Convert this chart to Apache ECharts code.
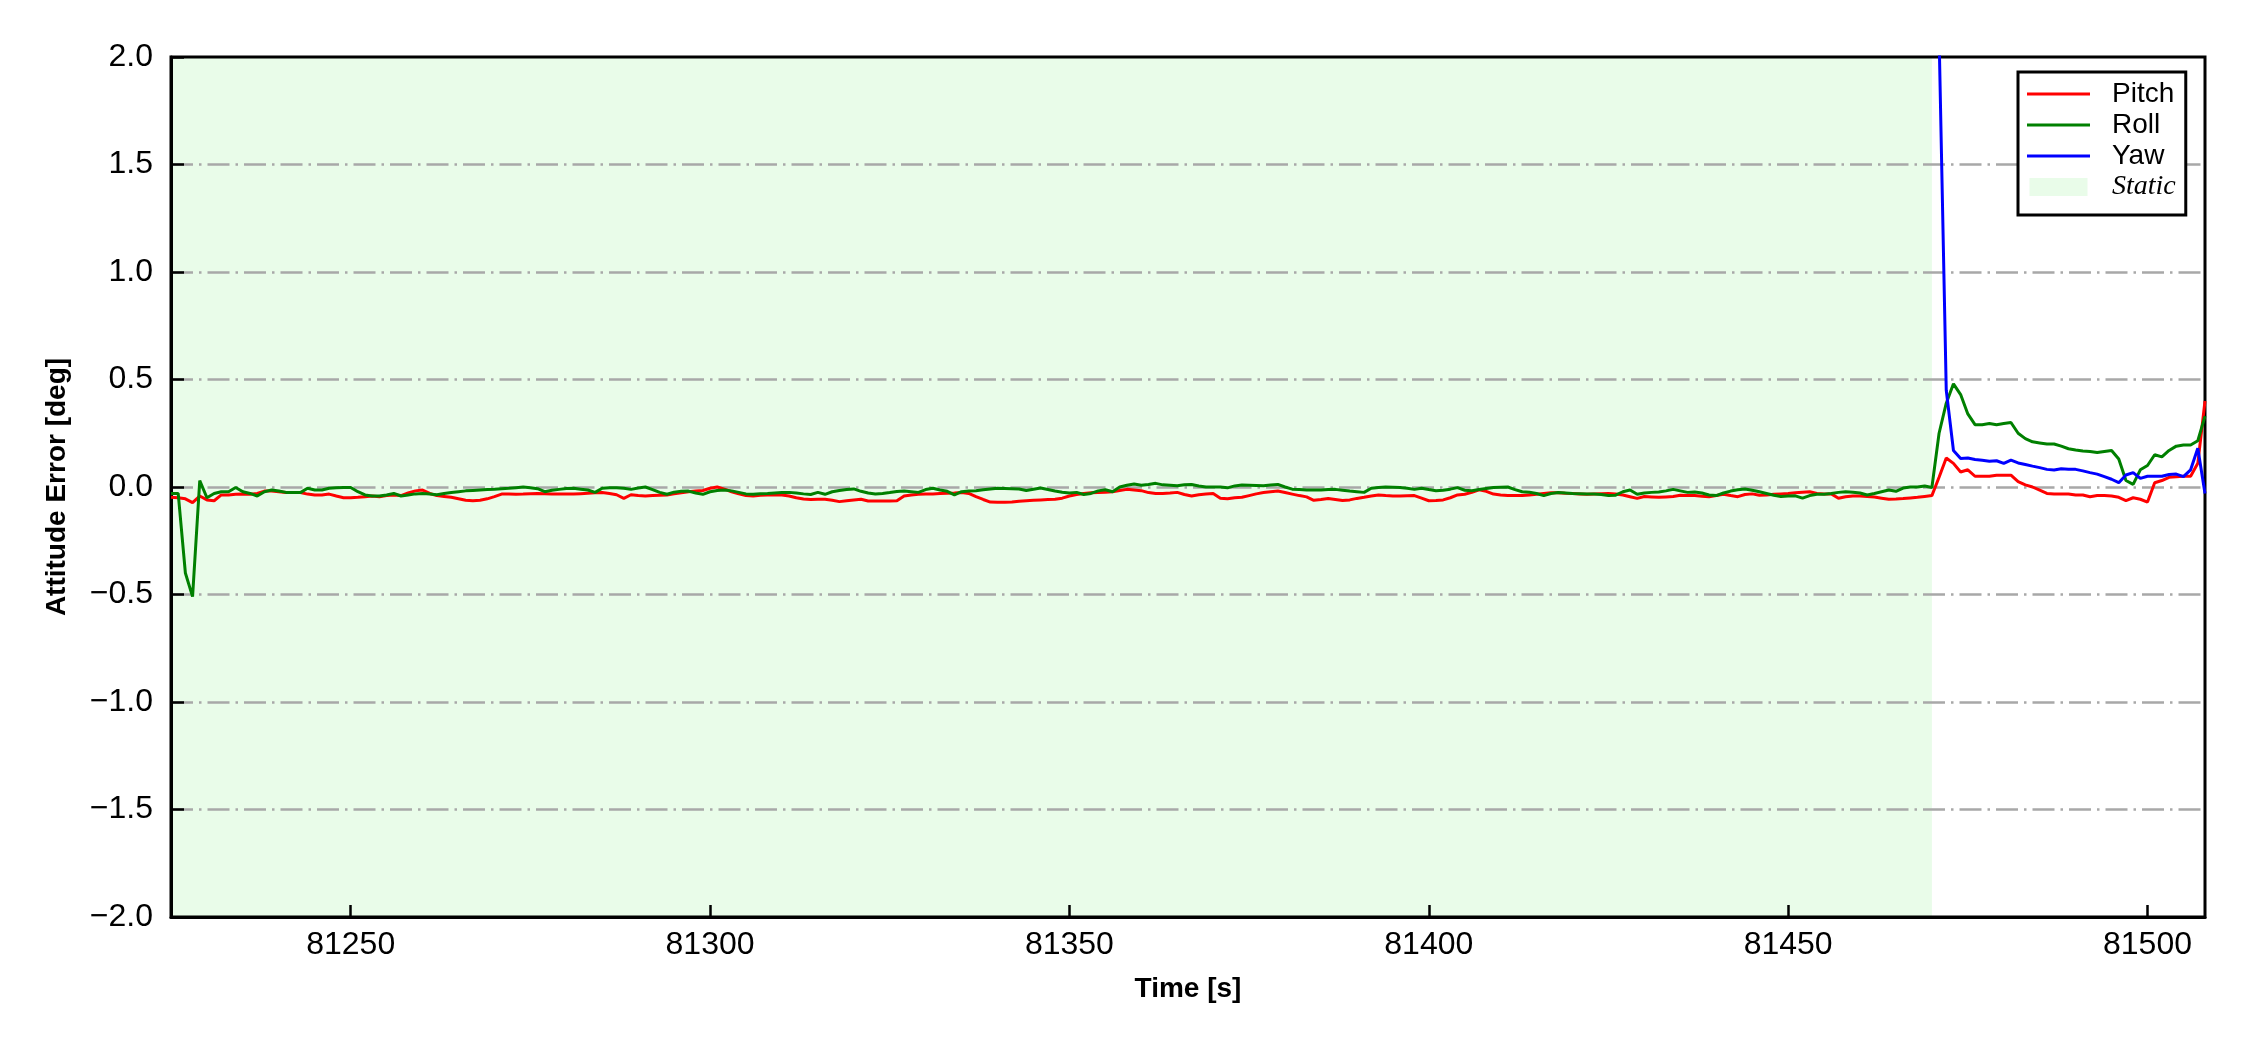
<!DOCTYPE html>
<html>
<head>
<meta charset="utf-8">
<script src="https://cdn.jsdelivr.net/npm/echarts@6/dist/echarts.min.js"></script>
<style>
html,body{margin:0;padding:0;background:#fff;}
#chart{width:2250px;height:1050px;}
</style>
</head>
<body>
<div id="chart"></div>
<script>
// ---- data ----
const timeStart = 81225;          // first sample time [s], 1 s sampling
const yawStart = 81470;           // first yaw sample time [s]
const staticStart = 81225;
const staticEnd = 81470;
const xTicks = [81250, 81300, 81350, 81400, 81450, 81500];
const yTicks = [-2.0, -1.5, -1.0, -0.5, 0.0, 0.5, 1.0, 1.5, 2.0];

const pitch = [
 -0.048,-0.05,-0.055,-0.073,-0.042,-0.06,-0.064,-0.037,-0.037,-0.034,
 -0.033,-0.034,-0.03,-0.019,-0.019,-0.022,-0.026,-0.026,-0.026,-0.033,
 -0.037,-0.037,-0.033,-0.042,-0.05,-0.05,-0.048,-0.045,-0.042,-0.045,
 -0.04,-0.037,-0.04,-0.028,-0.018,-0.014,-0.030,-0.040,-0.044,-0.048,
 -0.055,-0.062,-0.064,-0.062,-0.055,-0.045,-0.033,-0.033,-0.034,-0.033,
 -0.031,-0.030,-0.031,-0.033,-0.033,-0.033,-0.033,-0.031,-0.029,-0.027,
 -0.026,-0.030,-0.036,-0.053,-0.036,-0.040,-0.042,-0.040,-0.038,-0.037,
 -0.032,-0.027,-0.022,-0.019,-0.016,-0.006,0.0,-0.010,-0.022,-0.032,
 -0.040,-0.042,-0.038,-0.037,-0.037,-0.037,-0.042,-0.050,-0.056,-0.058,
 -0.057,-0.057,-0.062,-0.068,-0.064,-0.060,-0.057,-0.065,-0.065,-0.065,
 -0.065,-0.064,-0.042,-0.037,-0.034,-0.033,-0.032,-0.030,-0.029,-0.028,
 -0.026,-0.030,-0.045,-0.058,-0.070,-0.071,-0.071,-0.070,-0.066,-0.064,
 -0.062,-0.060,-0.058,-0.057,-0.052,-0.042,-0.035,-0.030,-0.027,-0.026,
 -0.025,-0.022,-0.016,-0.011,-0.014,-0.017,-0.026,-0.030,-0.030,-0.028,
 -0.025,-0.035,-0.042,-0.036,-0.033,-0.030,-0.052,-0.055,-0.050,-0.048,
 -0.040,-0.032,-0.026,-0.022,-0.019,-0.026,-0.033,-0.040,-0.046,-0.062,
 -0.058,-0.053,-0.058,-0.063,-0.060,-0.053,-0.048,-0.042,-0.037,-0.040,
 -0.042,-0.042,-0.041,-0.040,-0.052,-0.064,-0.063,-0.060,-0.050,-0.037,
 -0.034,-0.025,-0.013,-0.020,-0.033,-0.037,-0.040,-0.040,-0.040,-0.037,
 -0.034,-0.030,-0.027,-0.027,-0.029,-0.030,-0.032,-0.034,-0.032,-0.031,
 -0.030,-0.033,-0.037,-0.045,-0.053,-0.044,-0.046,-0.048,-0.046,-0.044,
 -0.038,-0.039,-0.040,-0.043,-0.045,-0.040,-0.034,-0.040,-0.045,-0.035,
 -0.032,-0.038,-0.037,-0.034,-0.032,-0.030,-0.027,-0.024,-0.022,-0.030,
 -0.032,-0.032,-0.052,-0.045,-0.042,-0.042,-0.044,-0.047,-0.052,-0.057,
 -0.056,-0.054,-0.051,-0.048,-0.044,-0.040,0.045,0.135,0.11,0.07,
 0.08,0.05,0.05,0.05,0.055,0.055,0.055,0.025,0.01,0.00,
 -0.015,-0.03,-0.033,-0.033,-0.033,-0.037,-0.037,-0.045,-0.04,-0.04,
 -0.042,-0.048,-0.063,-0.05,-0.057,-0.07,0.02,0.03,0.045,0.048,
 0.05,0.05,0.11,0.40
];

const roll = [
 -0.03,-0.03,-0.40,-0.51,0.03,-0.05,-0.03,-0.022,-0.022,-0.002,
 -0.022,-0.03,-0.042,-0.022,-0.014,-0.019,-0.025,-0.025,-0.026,-0.006,
 -0.014,-0.014,-0.006,-0.003,-0.002,-0.002,-0.022,-0.037,-0.042,-0.042,
 -0.037,-0.03,-0.042,-0.037,-0.032,-0.03,-0.033,-0.036,-0.03,-0.026,
 -0.022,-0.018,-0.016,-0.014,-0.012,-0.011,-0.008,-0.006,-0.003,0.0,
 -0.003,-0.008,-0.022,-0.015,-0.011,-0.007,-0.006,-0.010,-0.014,-0.025,
 -0.006,-0.004,-0.003,-0.006,-0.011,-0.005,0.0,-0.012,-0.025,-0.034,
 -0.024,-0.020,-0.019,-0.028,-0.034,-0.022,-0.016,-0.014,-0.018,-0.025,
 -0.032,-0.034,-0.031,-0.030,-0.028,-0.026,-0.025,-0.028,-0.032,-0.035,
 -0.025,-0.034,-0.022,-0.016,-0.012,-0.009,-0.020,-0.028,-0.033,-0.030,
 -0.026,-0.021,-0.019,-0.022,-0.025,-0.012,-0.006,-0.014,-0.020,-0.037,
 -0.022,-0.019,-0.017,-0.013,-0.009,-0.006,-0.007,-0.008,-0.009,-0.016,
 -0.010,-0.005,-0.012,-0.019,-0.024,-0.028,-0.025,-0.035,-0.030,-0.018,
 -0.013,-0.022,0.0,0.008,0.014,0.008,0.012,0.017,0.010,0.008,
 0.006,0.010,0.012,0.005,0.0,0.0,0.0,-0.004,0.005,0.009,
 0.008,0.007,0.006,0.009,0.012,0.0,-0.010,-0.012,-0.014,-0.014,
 -0.014,-0.012,-0.011,-0.015,-0.019,-0.022,-0.025,-0.006,-0.002,0.0,
 -0.001,-0.002,-0.006,-0.011,-0.006,-0.012,-0.017,-0.015,-0.010,-0.003,
 -0.015,-0.017,-0.012,-0.007,-0.002,-0.001,0.0,-0.012,-0.022,-0.024,
 -0.030,-0.040,-0.030,-0.026,-0.028,-0.030,-0.031,-0.033,-0.033,-0.035,
 -0.040,-0.038,-0.022,-0.014,-0.034,-0.028,-0.025,-0.023,-0.018,-0.011,
 -0.018,-0.025,-0.023,-0.028,-0.037,-0.040,-0.028,-0.019,-0.013,-0.009,
 -0.015,-0.022,-0.030,-0.038,-0.044,-0.042,-0.041,-0.052,-0.040,-0.034,
 -0.034,-0.030,-0.025,-0.022,-0.024,-0.028,-0.037,-0.030,-0.022,-0.014,
 -0.020,-0.005,0.0,0.0,0.005,-0.002,0.25,0.39,0.48,0.43,
 0.34,0.29,0.29,0.295,0.29,0.295,0.30,0.25,0.225,0.21,
 0.205,0.20,0.20,0.19,0.178,0.172,0.167,0.165,0.16,0.165,
 0.17,0.13,0.03,0.012,0.08,0.10,0.15,0.14,0.17,0.19,
 0.195,0.195,0.215,0.33
];

const yaw = [
 6.0,2.1,0.45,0.17,0.133,0.135,0.128,0.124,0.12,0.122,
 0.11,0.125,0.112,0.105,0.097,0.09,0.082,0.079,0.085,0.083,
 0.082,0.075,0.067,0.06,0.048,0.036,0.02,0.056,0.067,0.04,
 0.05,0.05,0.05,0.058,0.06,0.048,0.08,0.18,-0.03
];

// ---- chart ----
const pairs = (arr, t0) => arr.map((v, i) => [t0 + i, v]);
const fmtY = v => (v < 0 ? '\u2212' : '') + Math.abs(v).toFixed(1);
const sans = 'Liberation Sans, Arial, sans-serif';
const lineIcon = 'path://M0,0H63V3H0Z';
const rectIcon = 'path://M0,0H58V18H0Z';

const chart = echarts.init(document.getElementById('chart'), null, {renderer: 'canvas'});
chart.setOption({
  animation: false,
  backgroundColor: '#ffffff',
  grid: {
    left: 171, top: 57, right: 45, bottom: 133,
    show: true, borderColor: '#000', borderWidth: 3, backgroundColor: 'transparent'
  },
  legend: {
    orient: 'vertical',
    left: 2018, top: 72,
    padding: [8, 10, 14, 9],
    itemGap: 3,
    itemWidth: 63, itemHeight: 18,
    symbolKeepAspect: true,
    borderColor: '#000', borderWidth: 3, borderRadius: 0,
    backgroundColor: '#fff',
    textStyle: {fontFamily: sans, fontSize: 28, color: '#000', padding: [0, 0, 0, 17]},
    data: [
      {name: 'Pitch', icon: lineIcon, itemStyle: {color: '#ff0000'}},
      {name: 'Roll', icon: lineIcon, itemStyle: {color: '#008000'}},
      {name: 'Yaw', icon: lineIcon, itemStyle: {color: '#0000ff'}},
      {name: 'Static', icon: rectIcon, itemStyle: {color: '#e9fce9'},
       textStyle: {fontFamily: 'Liberation Serif, Times New Roman, serif', fontStyle: 'italic', fontSize: 28, color: '#000', padding: [0, 0, 0, 17]}}
    ]
  },
  xAxis: {
    type: 'value',
    min: 81225, max: 81508,
    name: 'Time [s]', nameLocation: 'middle', nameGap: 58,
    nameTextStyle: {fontFamily: sans, fontSize: 28, fontWeight: 'bold', color: '#000'},
    axisLine: {show: true, onZero: false, lineStyle: {color: '#000', width: 3}},
    axisTick: {show: true, inside: true, length: 12, lineStyle: {color: '#000', width: 2.5}, customValues: xTicks},
    axisLabel: {fontFamily: sans, fontSize: 32, color: '#000', margin: 12, customValues: xTicks, formatter: v => String(v)},
    splitLine: {show: false}
  },
  yAxis: {
    type: 'value',
    min: -2, max: 2, interval: 0.5,
    name: 'Attitude Error [deg]', nameLocation: 'middle', nameGap: 100,
    nameTextStyle: {fontFamily: sans, fontSize: 28, fontWeight: 'bold', color: '#000'},
    axisLine: {show: true, lineStyle: {color: '#000', width: 3}},
    axisTick: {show: true, inside: true, length: 13, lineStyle: {color: '#000', width: 2.5}, customValues: yTicks},
    axisLabel: {fontFamily: sans, fontSize: 32, color: '#000', margin: 18, formatter: fmtY},
    splitLine: {show: true, showMinLine: false, showMaxLine: false,
                lineStyle: {color: '#a8a8a8', width: 2.5, type: [22, 6, 2.5, 6]}}
  },
  series: [
    {
      name: 'Static', type: 'custom', z: -1, silent: true,
      data: [[staticStart, staticEnd]],
      encode: {x: [0, 1]},
      itemStyle: {color: '#e9fce9'},
      renderItem: (params, api) => {
        const cs = params.coordSys;
        const a = api.coord([api.value(0), 0]);
        const b = api.coord([api.value(1), 0]);
        return {type: 'rect', shape: {x: a[0], y: cs.y, width: b[0] - a[0], height: cs.height},
                style: {fill: '#e9fce9'}};
      }
    },
    {name: 'Pitch', type: 'line', data: pairs(pitch, timeStart), showSymbol: false, symbol: 'none',
     lineStyle: {color: '#ff0000', width: 3}, itemStyle: {color: '#ff0000'}, clip: true},
    {name: 'Roll', type: 'line', data: pairs(roll, timeStart), showSymbol: false, symbol: 'none',
     lineStyle: {color: '#008000', width: 3}, itemStyle: {color: '#008000'}, clip: true},
    {name: 'Yaw', type: 'line', data: pairs(yaw, yawStart), showSymbol: false, symbol: 'none',
     lineStyle: {color: '#0000ff', width: 3}, itemStyle: {color: '#0000ff'}, clip: true}
  ]
});
</script>
</body>
</html>
